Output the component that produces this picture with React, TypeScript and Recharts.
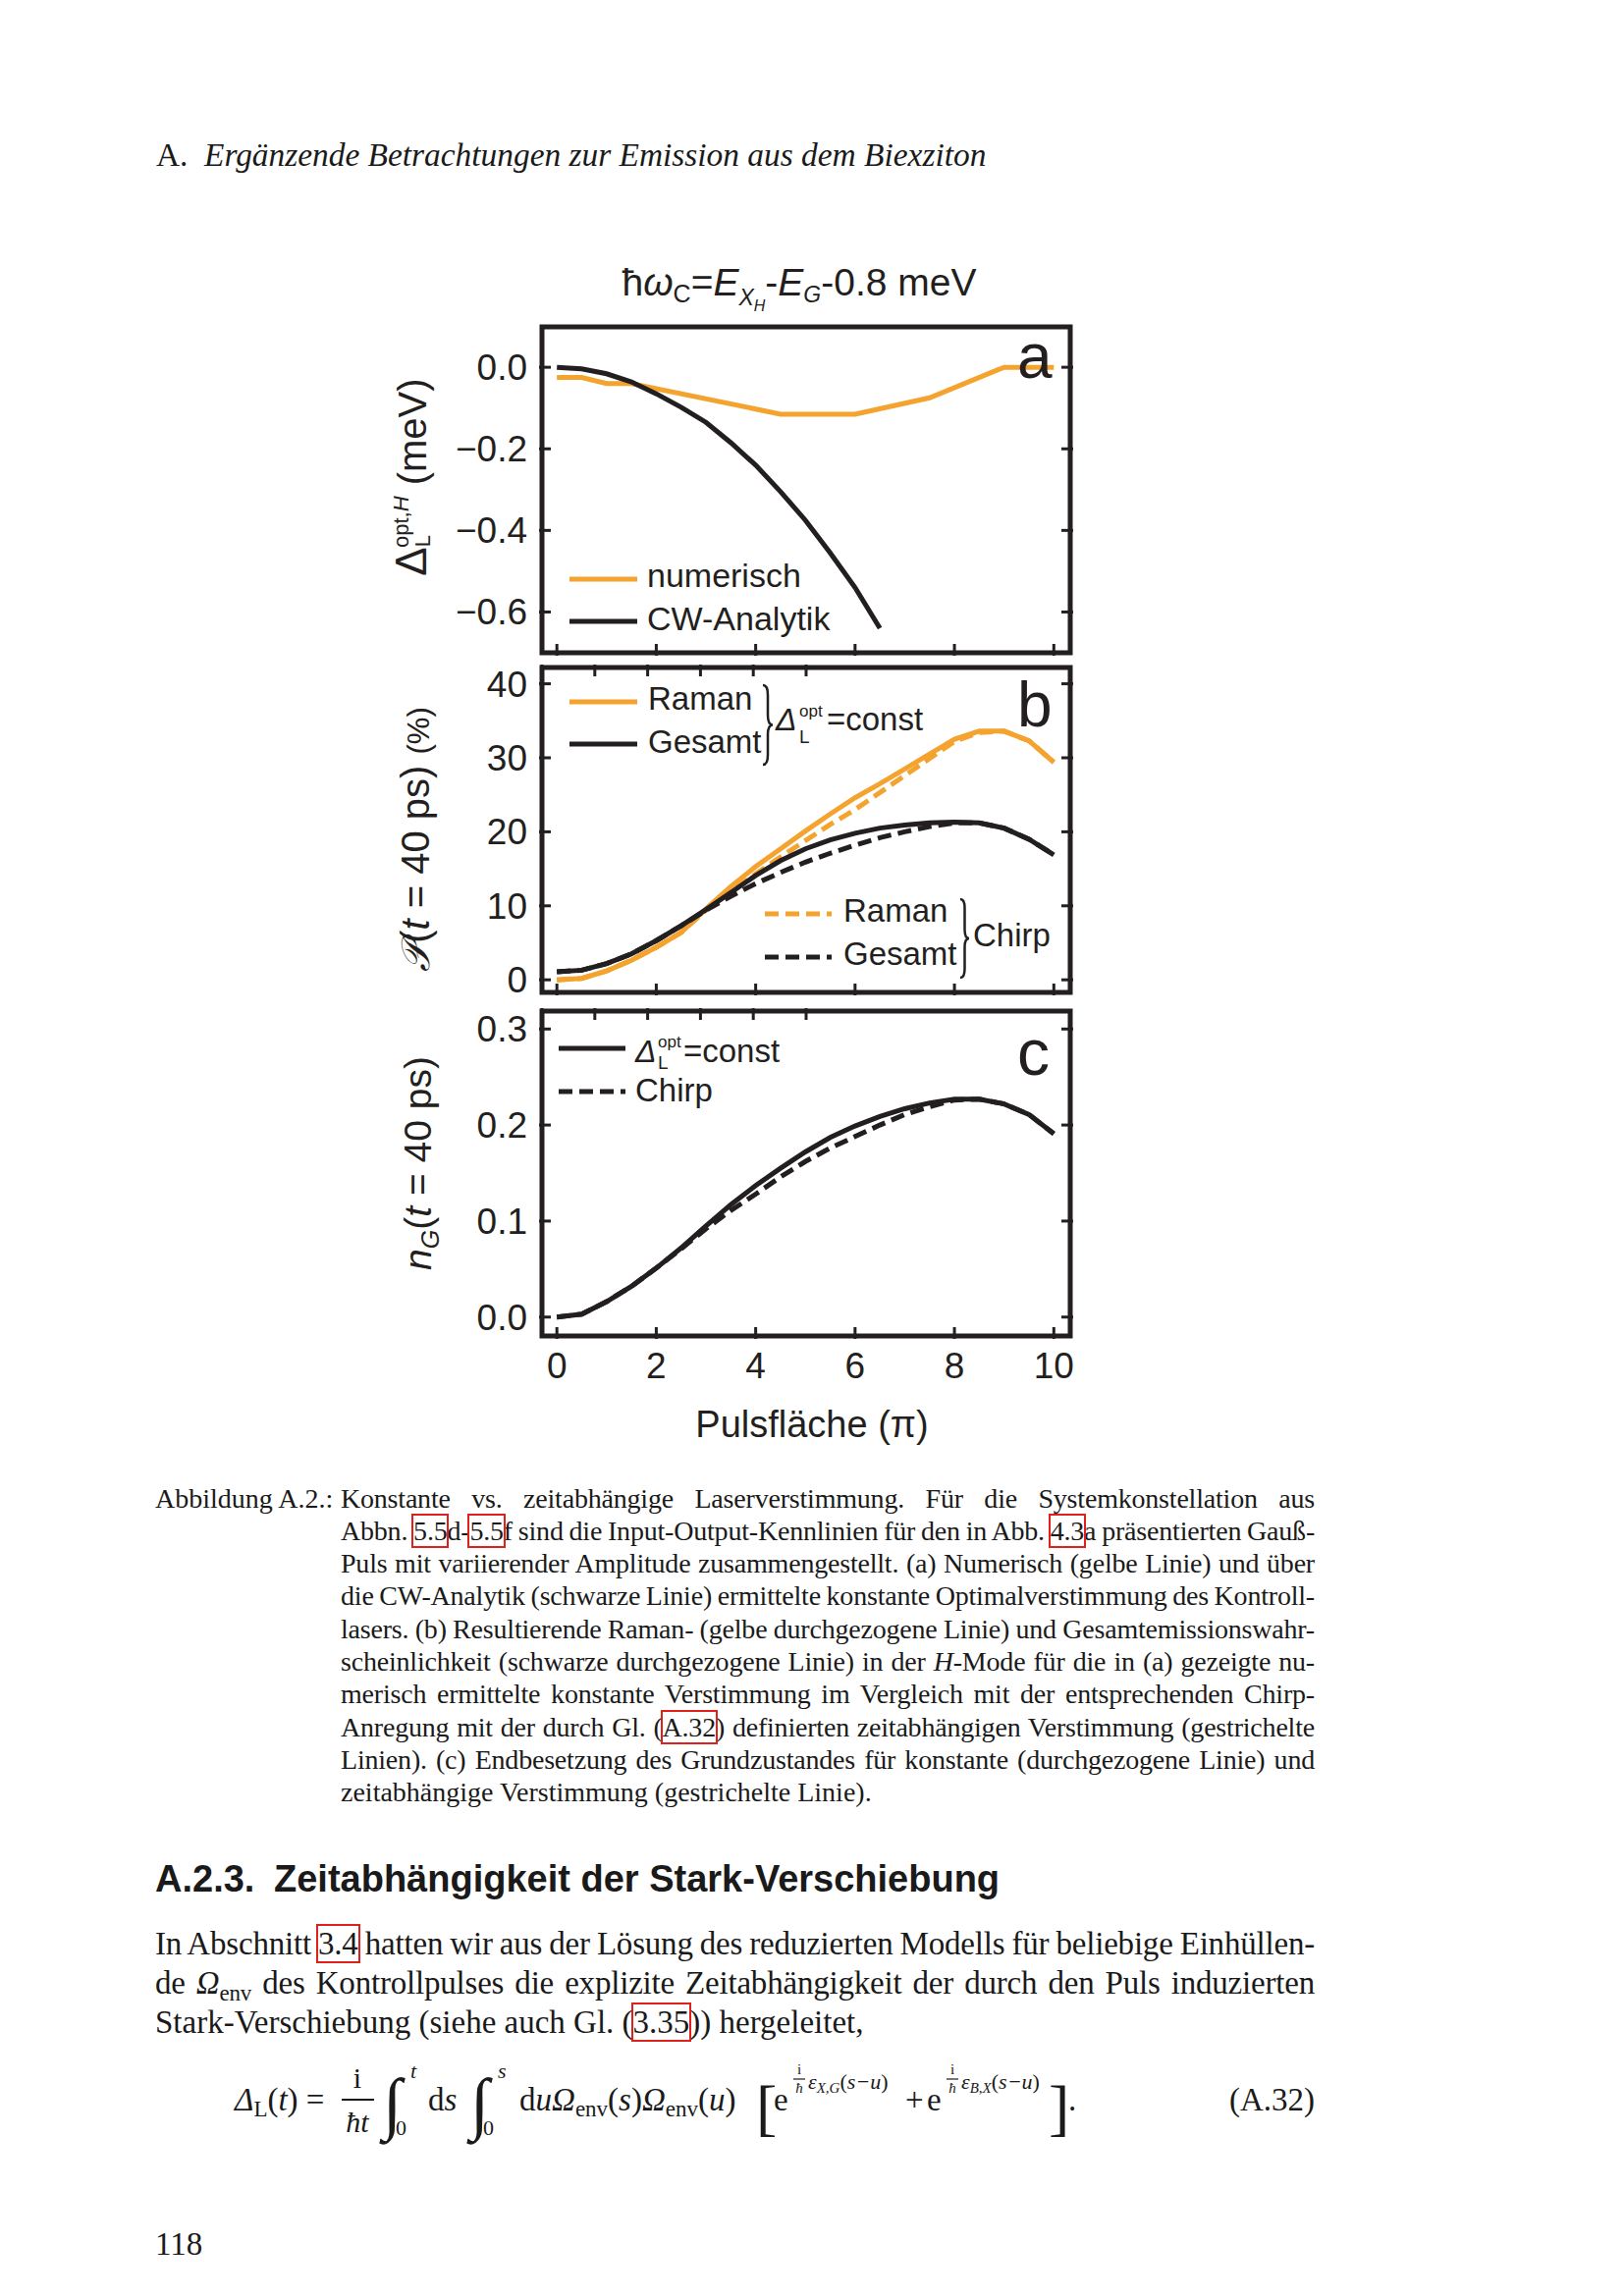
import React from "react";
import { LineChart, Line, XAxis, YAxis, ReferenceArea } from "recharts";

// ---------------- data ----------------
const pulseTicks = [0, 2, 4, 6, 8, 10];

// panel a : optimal detuning (meV)
const numerischX = [0, 0.5, 1, 1.5, 4.5, 6, 7.5, 9, 10];
const numerischY = [-0.025, -0.025, -0.04, -0.04, -0.115, -0.115, -0.075, 0, 0];
const cwX = [0, 0.5, 1, 1.5, 2, 2.5, 3, 3.5, 4, 4.5, 5, 5.5, 6, 6.5];
const cwY = [0, -0.004, -0.016, -0.036, -0.065, -0.098, -0.135, -0.185, -0.24, -0.305, -0.375, -0.455, -0.54, -0.64];
const aTicks = [0, -0.2, -0.4, -0.6];

// panel b : emission probability (%)
const pulseB = [0, 0.5, 1, 1.5, 2, 2.5, 3, 3.5, 4, 4.5, 5, 5.5, 6, 6.5, 7, 7.5, 8, 8.5, 9, 9.5, 10];
const ramanConst = [0, 0.2, 1.2, 2.65, 4.4, 6.4, 9.6, 12.6, 15.3, 17.7, 20.1, 22.4, 24.6, 26.5, 28.5, 30.5, 32.5, 33.6, 33.6, 32.3, 29.4];
const gesamtConst = [1.1, 1.3, 2.2, 3.5, 5.3, 7.3, 9.5, 11.8, 14.1, 16.1, 17.7, 18.9, 19.8, 20.5, 20.9, 21.2, 21.3, 21.2, 20.5, 19.0, 16.9];
const ramanChirp = [0, 0.2, 1.2, 2.65, 4.4, 6.4, 9.4, 11.9, 14.3, 16.6, 18.8, 21.0, 23.0, 25.3, 27.6, 29.9, 32.2, 33.4, 33.6, 32.3, 29.4];
const gesamtChirp = [1.1, 1.3, 2.2, 3.5, 5.3, 7.3, 9.4, 11.3, 13.0, 14.5, 15.9, 17.1, 18.2, 19.2, 20.0, 20.7, 21.2, 21.2, 20.5, 19.0, 16.9];
const bTicks = [0, 10, 20, 30, 40];

// panel c : ground state occupation
const nGConst = [0, 0.003, 0.016, 0.032, 0.051, 0.072, 0.095, 0.117, 0.137, 0.155, 0.172, 0.187, 0.199, 0.209, 0.217, 0.223, 0.227, 0.227, 0.222, 0.211, 0.191];
const nGChirp = [0, 0.003, 0.016, 0.032, 0.051, 0.071, 0.092, 0.111, 0.128, 0.146, 0.162, 0.176, 0.188, 0.2, 0.211, 0.219, 0.226, 0.227, 0.222, 0.211, 0.191];
const cTicks = [0, 0.1, 0.2, 0.3];

// ---------------- styling / layout ----------------
const SANS = "'Liberation Sans', Arial, Helvetica, sans-serif";
const SERIF = "'Liberation Serif', 'Times New Roman', Times, serif";
const INK = "#231F20";
const TEXT = "#1a1a1a";
const ORANGE = "#F4A32E";
const LINK_RED = "#E0201B";
const DASH = "14 7";
const LW = 5;

const XD: [number, number] = [-0.3, 10.33];
const PLOT_L = 552;
const PLOT_R = 1090;
const PLOT_W = PLOT_R - PLOT_L;
const AXIS_W = 150;
const RIGHT_W = 20;
const TOP_H = 20;

const numerischData = numerischX.map((x, i) => ({ x, y: numerischY[i] }));
const cwData = cwX.map((x, i) => ({ x, y: cwY[i] }));
const panelBData = pulseB.map((x, i) => ({
  x,
  ramanConst: ramanConst[i],
  gesamtConst: gesamtConst[i],
  ramanChirp: ramanChirp[i],
  gesamtChirp: gesamtChirp[i],
}));
const panelCData = pulseB.map((x, i) => ({ x, konst: nGConst[i], chirp: nGChirp[i] }));

const fmtA = (v: number) => (v === 0 ? "0.0" : "\u2212" + Math.abs(v).toFixed(1));
const fmtB = (v: number) => String(v);
const fmtC = (v: number) => v.toFixed(1);

const makeLeftTick = (fmt: (v: number) => string) => (p: any) => (
  <g>
    <line x1={p.x - 3} x2={p.x + 9} y1={p.y} y2={p.y} stroke={INK} strokeWidth={3} />
    <text x={p.x - 15} y={p.y + 13} textAnchor="end" fontFamily={SANS} fontSize={37} fill={INK}>
      {fmt(p.payload.value)}
    </text>
  </g>
);
const RightTick = (p: any) => (
  <line x1={p.x + 3} x2={p.x - 9} y1={p.y} y2={p.y} stroke={INK} strokeWidth={3} />
);
const TopTick = (p: any) => (
  <line x1={p.x} x2={p.x} y1={p.y - 3} y2={p.y + 9} stroke={INK} strokeWidth={3} />
);
const makeBottomTick = (labels: boolean) => (p: any) => (
  <g>
    <line x1={p.x} x2={p.x} y1={p.y + 3} y2={p.y - 9} stroke={INK} strokeWidth={3} />
    {labels && (
      <text x={p.x} y={p.y + 43} textAnchor="middle" fontFamily={SANS} fontSize={37} fill={INK}>
        {p.payload.value}
      </text>
    )}
  </g>
);

function Panel(props: {
  top: number;
  bottom: number;
  yDomain: [number, number];
  yTicks: number[];
  fmt: (v: number) => string;
  labels?: boolean;
  data?: any[];
  children: React.ReactNode;
}) {
  const { top, bottom, yDomain, yTicks, fmt, labels, data, children } = props;
  const botH = labels ? 120 : 20;
  const width = AXIS_W + PLOT_W + RIGHT_W;
  const height = TOP_H + (bottom - top) + botH;
  return (
    <div style={{ position: "absolute", left: PLOT_L - AXIS_W, top: top - TOP_H }}>
      <LineChart width={width} height={height} data={data} margin={{ top: 0, right: 0, bottom: 0, left: 0 }}>
        <XAxis
          dataKey="x"
          type="number"
          domain={XD}
          ticks={pulseTicks}
          interval={0}
          allowDataOverflow
          height={botH}
          axisLine={false}
          tickLine={false}
          tickSize={0}
          tickMargin={0}
          tick={makeBottomTick(!!labels)}
        />
        <XAxis
          xAxisId="t"
          orientation="top"
          type="number"
          domain={XD}
          ticks={pulseTicks}
          interval={0}
          allowDataOverflow
          height={TOP_H}
          axisLine={false}
          tickLine={false}
          tickSize={0}
          tickMargin={0}
          tick={TopTick}
        />
        <YAxis
          type="number"
          domain={yDomain}
          ticks={yTicks}
          interval={0}
          allowDataOverflow
          width={AXIS_W}
          axisLine={false}
          tickLine={false}
          tickSize={0}
          tickMargin={0}
          tick={makeLeftTick(fmt)}
        />
        <YAxis
          yAxisId="r"
          orientation="right"
          type="number"
          domain={yDomain}
          ticks={yTicks}
          interval={0}
          allowDataOverflow
          width={RIGHT_W}
          axisLine={false}
          tickLine={false}
          tickSize={0}
          tickMargin={0}
          tick={RightTick}
        />
        {children}
        <ReferenceArea
          x1={XD[0]}
          x2={XD[1]}
          y1={yDomain[0]}
          y2={yDomain[1]}
          fill="none"
          fillOpacity={0}
          stroke={INK}
          strokeWidth={5}
          ifOverflow="visible"
        />
      </LineChart>
    </div>
  );
}

// ---------------- page text helpers ----------------
function TLine(props: {
  left: number;
  baseline: number;
  width?: number;
  fs: number;
  justify?: boolean;
  family?: string;
  style?: React.CSSProperties;
  children: React.ReactNode;
}) {
  const { left, baseline, width, fs, justify, family, style, children } = props;
  const fam = family || SERIF;
  const off = fam === SANS ? 0.8465 : 0.8375;
  return (
    <div
      style={{
        position: "absolute",
        left,
        top: baseline - off * fs,
        width,
        fontSize: fs,
        lineHeight: `${fs}px`,
        height: fs,
        whiteSpace: "nowrap",
        wordSpacing: justify ? "-1.5px" : undefined,
        letterSpacing: justify ? "-0.2px" : undefined,
        textAlign: justify ? "justify" : "left",
        textAlignLast: justify ? "justify" : "left",
        fontFamily: fam,
        color: TEXT,
        ...style,
      }}
    >
      {children}
    </div>
  );
}

const Ref = ({ children }: { children: React.ReactNode }) => (
  <span style={{ outline: `2px solid ${LINK_RED}`, outlineOffset: "0px" }}>{children}</span>
);

function bracePath(x: number, y0: number, y1: number, w: number) {
  const ym = (y0 + y1) / 2;
  const q = w / 2;
  return `M ${x} ${y0} Q ${x + q} ${y0} ${x + q} ${y0 + 2 * q} L ${x + q} ${ym - 2 * q} Q ${x + q} ${ym} ${x + w} ${ym} Q ${x + q} ${ym} ${x + q} ${ym + 2 * q} L ${x + q} ${y1 - 2 * q} Q ${x + q} ${y1} ${x} ${y1}`;
}

const TEXT_R = 1339;
const CAP_L = 347;
const CAP_W = TEXT_R - CAP_L;
const BODY_W = TEXT_R - 158;
const CAP_B0 = 1536;
const CAP_DY = 33.3;
const capB = (i: number) => CAP_B0 + i * CAP_DY;

export default function App() {
  return (
    <div style={{ position: "absolute", left: 0, top: 0, width: 1654, height: 2339, background: "#fff", overflow: "hidden" }}>
      {/* running header */}
      <TLine left={159} baseline={169} fs={33.4}>A.</TLine>
      <TLine left={208} baseline={169} fs={33.4} style={{ fontStyle: "italic" }}>
        Ergänzende Betrachtungen zur Emission aus dem Biexziton
      </TLine>

      {/* charts */}
      <Panel top={333} bottom={665} yDomain={[-0.7, 0.099]} yTicks={aTicks} fmt={fmtA}>
        <Line data={numerischData} dataKey="y" type="linear" stroke={ORANGE} strokeWidth={LW} dot={false} activeDot={false} isAnimationActive={false} />
        <Line data={cwData} dataKey="y" type="linear" stroke={INK} strokeWidth={LW} dot={false} activeDot={false} isAnimationActive={false} />
      </Panel>
      <Panel top={680} bottom={1011} yDomain={[-1.7, 42.2]} yTicks={bTicks} fmt={fmtB} data={panelBData}>
        <Line dataKey="ramanConst" type="linear" stroke={ORANGE} strokeWidth={LW} dot={false} activeDot={false} isAnimationActive={false} />
        <Line dataKey="ramanChirp" type="linear" stroke={ORANGE} strokeWidth={LW} strokeDasharray={DASH} dot={false} activeDot={false} isAnimationActive={false} />
        <Line dataKey="gesamtConst" type="linear" stroke={INK} strokeWidth={LW} dot={false} activeDot={false} isAnimationActive={false} />
        <Line dataKey="gesamtChirp" type="linear" stroke={INK} strokeWidth={LW} strokeDasharray={DASH} dot={false} activeDot={false} isAnimationActive={false} />
      </Panel>
      <Panel top={1030} bottom={1361} yDomain={[-0.0197, 0.3187]} yTicks={cTicks} fmt={fmtC} labels data={panelCData}>
        <Line dataKey="konst" type="linear" stroke={INK} strokeWidth={LW} dot={false} activeDot={false} isAnimationActive={false} />
        <Line dataKey="chirp" type="linear" stroke={INK} strokeWidth={LW} strokeDasharray={DASH} dot={false} activeDot={false} isAnimationActive={false} />
      </Panel>

      {/* chart annotations */}
      <svg width={1654} height={2339} style={{ position: "absolute", left: 0, top: 0, pointerEvents: "none" }}>
        {/* title */}
        <text x={814} y={301} textAnchor="middle" fontFamily={SANS} fontSize={39} fill={INK}>
          <tspan>ħ</tspan>
          <tspan fontStyle="italic">ω</tspan>
          <tspan fontSize={25} dy={7}>C</tspan>
          <tspan dy={-7}>=</tspan>
          <tspan fontStyle="italic">E</tspan>
          <tspan fontSize={23} fontStyle="italic" dy={10}>X</tspan>
          <tspan fontSize={16} fontStyle="italic" dy={6}>H</tspan>
          <tspan dy={-16}>-</tspan>
          <tspan fontStyle="italic">E</tspan>
          <tspan fontSize={23} fontStyle="italic" dy={7}>G</tspan>
          <tspan dy={-7}>-0.8 meV</tspan>
        </text>

        {/* panel letters */}
        <text x={1036} y={385} fontFamily={SANS} fontSize={64} fill={INK}>a</text>
        <text x={1036} y={740} fontFamily={SANS} fontSize={64} fill={INK}>b</text>
        <text x={1036} y={1095} fontFamily={SANS} fontSize={66} fill={INK}>c</text>

        {/* y-axis titles */}
        <text x={434} y={486} transform="rotate(-90 434 486)" textAnchor="middle" fontFamily={SANS} fontSize={40} fill={INK}>
          <tspan fontSize={44}>Δ</tspan>
          <tspan fontSize={22} dy={4}>L</tspan>
          <tspan fontSize={22} dx={-13} dy={-22}>opt,</tspan>
          <tspan fontSize={22} fontStyle="italic">H</tspan>
          <tspan dy={18}> (meV)</tspan>
        </text>
        <text x={437} y={855} transform="rotate(-90 437 855)" textAnchor="middle" fontFamily={SANS} fontSize={40} fill={INK}>
          <tspan fontStyle="italic">{"\u{1D4AB}"}</tspan>
          <tspan>(</tspan>
          <tspan fontStyle="italic">t</tspan>
          <tspan> = 40 ps) </tspan>
          <tspan fontSize={31}>(%)</tspan>
        </text>
        <text x={439} y={1185} transform="rotate(-90 439 1185)" textAnchor="middle" fontFamily={SANS} fontSize={39} fill={INK}>
          <tspan fontStyle="italic">n</tspan>
          <tspan fontSize={25} fontStyle="italic" dy={8}>G</tspan>
          <tspan dy={-8}>(</tspan>
          <tspan fontStyle="italic">t</tspan>
          <tspan> = 40 ps)</tspan>
        </text>

        {/* x-axis title */}
        <text x={827} y={1464} textAnchor="middle" fontFamily={SANS} fontSize={38} fill={INK}>Pulsfläche (π)</text>

        {/* legend a */}
        <line x1={580} x2={649} y1={590} y2={590} stroke={ORANGE} strokeWidth={LW} />
        <text x={659} y={598} fontFamily={SANS} fontSize={34} fill={INK}>numerisch</text>
        <line x1={580} x2={649} y1={633} y2={633} stroke={INK} strokeWidth={LW} />
        <text x={659} y={642} fontFamily={SANS} fontSize={34} fill={INK}>CW-Analytik</text>

        {/* legend b (const) */}
        <line x1={580} x2={649} y1={715} y2={715} stroke={ORANGE} strokeWidth={LW} />
        <text x={660} y={723} fontFamily={SANS} fontSize={33} fill={INK}>Raman</text>
        <line x1={580} x2={649} y1={758} y2={758} stroke={INK} strokeWidth={LW} />
        <text x={660} y={767} fontFamily={SANS} fontSize={33} fill={INK}>Gesamt</text>
        <path d={bracePath(777, 698, 779, 10)} fill="none" stroke={INK} strokeWidth={2.5} />
        <text x={790} y={744} fontFamily={SANS} fontSize={32} fontStyle="italic" fill={INK}>Δ</text>
        <text x={814} y={730} fontFamily={SANS} fontSize={17} fill={INK}>opt</text>
        <text x={814} y={757} fontFamily={SANS} fontSize={19} fill={INK}>L</text>
        <text x={842} y={744} fontFamily={SANS} fontSize={33} fill={INK}>=const</text>

        {/* legend b (chirp) */}
        <line x1={779} x2={847} y1={931} y2={931} stroke={ORANGE} strokeWidth={LW} strokeDasharray={DASH} />
        <text x={859} y={939} fontFamily={SANS} fontSize={33} fill={INK}>Raman</text>
        <line x1={779} x2={847} y1={975} y2={975} stroke={INK} strokeWidth={LW} strokeDasharray={DASH} />
        <text x={859} y={983} fontFamily={SANS} fontSize={33} fill={INK}>Gesamt</text>
        <path d={bracePath(978, 916, 996, 9)} fill="none" stroke={INK} strokeWidth={2.5} />
        <text x={991} y={964} fontFamily={SANS} fontSize={33} fill={INK}>Chirp</text>

        {/* legend c */}
        <line x1={569} x2={637} y1={1068} y2={1068} stroke={INK} strokeWidth={LW} />
        <text x={647} y={1082} fontFamily={SANS} fontSize={32} fontStyle="italic" fill={INK}>Δ</text>
        <text x={670} y={1067} fontFamily={SANS} fontSize={17} fill={INK}>opt</text>
        <text x={670} y={1089} fontFamily={SANS} fontSize={19} fill={INK}>L</text>
        <text x={696} y={1082} fontFamily={SANS} fontSize={33} fill={INK}>=const</text>
        <line x1={569} x2={637} y1={1112} y2={1112} stroke={INK} strokeWidth={LW} strokeDasharray={DASH} />
        <text x={647} y={1122} fontFamily={SANS} fontSize={33} fill={INK}>Chirp</text>

        {/* equation A.32 */}
        <g fontFamily={SERIF} fill={TEXT}>
          <text x={239} y={2150} fontSize={33}>
            <tspan fontStyle="italic">Δ</tspan>
            <tspan fontSize={23} dy={6}>L</tspan>
            <tspan dy={-6}>(</tspan>
            <tspan fontStyle="italic">t</tspan>
            <tspan>) =</tspan>
          </text>
          <text x={364} y={2127} fontSize={30} textAnchor="middle">i</text>
          <line x1={348} x2={381} y1={2139} y2={2139} stroke={TEXT} strokeWidth={2} />
          <text x={364} y={2172} fontSize={30} textAnchor="middle" fontStyle="italic">ħt</text>
          <text x={390} y={2166} fontSize={70}>∫</text>
          <text x={418} y={2117} fontSize={22} fontStyle="italic">t</text>
          <text x={403} y={2175} fontSize={22}>0</text>
          <text x={436} y={2150} fontSize={33}>
            d<tspan fontStyle="italic">s</tspan>
          </text>
          <text x={479} y={2166} fontSize={70}>∫</text>
          <text x={507} y={2117} fontSize={22} fontStyle="italic">s</text>
          <text x={492} y={2175} fontSize={22}>0</text>
          <text x={529} y={2150} fontSize={33}>
            d<tspan fontStyle="italic">uΩ</tspan>
            <tspan fontSize={23} dy={6}>env</tspan>
            <tspan dy={-6}>(</tspan>
            <tspan fontStyle="italic">s</tspan>
            <tspan>)</tspan>
            <tspan fontStyle="italic">Ω</tspan>
            <tspan fontSize={23} dy={6}>env</tspan>
            <tspan dy={-6}>(</tspan>
            <tspan fontStyle="italic">u</tspan>
            <tspan>)</tspan>
          </text>
          <text x={770} y={2168} fontSize={64}>[</text>
          <text x={788} y={2150} fontSize={33}>e</text>
          <text x={814} y={2113} fontSize={15} textAnchor="middle">i</text>
          <line x1={808} x2={820} y1={2118} y2={2118} stroke={TEXT} strokeWidth={1.2} />
          <text x={814} y={2132} fontSize={15} textAnchor="middle" fontStyle="italic">ħ</text>
          <text x={823} y={2128} fontSize={22} fontStyle="italic">
            ε<tspan fontSize={15} dy={4}>X,G</tspan>
            <tspan dy={-4} fontStyle="normal">(</tspan>s−u<tspan fontStyle="normal">)</tspan>
          </text>
          <text x={922} y={2150} fontSize={33}>+</text>
          <text x={944} y={2150} fontSize={33}>e</text>
          <text x={970} y={2113} fontSize={15} textAnchor="middle">i</text>
          <line x1={964} x2={976} y1={2118} y2={2118} stroke={TEXT} strokeWidth={1.2} />
          <text x={970} y={2132} fontSize={15} textAnchor="middle" fontStyle="italic">ħ</text>
          <text x={979} y={2128} fontSize={22} fontStyle="italic">
            ε<tspan fontSize={15} dy={4}>B,X</tspan>
            <tspan dy={-4} fontStyle="normal">(</tspan>s−u<tspan fontStyle="normal">)</tspan>
          </text>
          <text x={1068} y={2168} fontSize={64}>]</text>
          <text x={1088} y={2150} fontSize={33}>.</text>
          <text x={TEXT_R} y={2150} fontSize={33} textAnchor="end">(A.32)</text>
        </g>
      </svg>

      {/* caption */}
      <TLine left={158} baseline={capB(0)} fs={28}>Abbildung A.2.:</TLine>
      <TLine left={CAP_L} baseline={capB(0)} width={CAP_W} fs={28} justify>
        Konstante vs. zeitabhängige Laserverstimmung. Für die Systemkonstellation aus
      </TLine>
      <TLine left={CAP_L} baseline={capB(1)} width={CAP_W} fs={28} justify>
        Abbn. <Ref>5.5</Ref>d-<Ref>5.5</Ref>f sind die Input-Output-Kennlinien für den in Abb. <Ref>4.3</Ref>a präsentierten Gauß-
      </TLine>
      <TLine left={CAP_L} baseline={capB(2)} width={CAP_W} fs={28} justify>
        Puls mit variierender Amplitude zusammengestellt. (a) Numerisch (gelbe Linie) und über
      </TLine>
      <TLine left={CAP_L} baseline={capB(3)} width={CAP_W} fs={28} justify>
        die CW-Analytik (schwarze Linie) ermittelte konstante Optimalverstimmung des Kontroll-
      </TLine>
      <TLine left={CAP_L} baseline={capB(4)} width={CAP_W} fs={28} justify>
        lasers. (b) Resultierende Raman- (gelbe durchgezogene Linie) und Gesamtemissionswahr-
      </TLine>
      <TLine left={CAP_L} baseline={capB(5)} width={CAP_W} fs={28} justify>
        scheinlichkeit (schwarze durchgezogene Linie) in der <i>H</i>-Mode für die in (a) gezeigte nu-
      </TLine>
      <TLine left={CAP_L} baseline={capB(6)} width={CAP_W} fs={28} justify>
        merisch ermittelte konstante Verstimmung im Vergleich mit der entsprechenden Chirp-
      </TLine>
      <TLine left={CAP_L} baseline={capB(7)} width={CAP_W} fs={28} justify>
        Anregung mit der durch Gl. (<Ref>A.32</Ref>) definierten zeitabhängigen Verstimmung (gestrichelte
      </TLine>
      <TLine left={CAP_L} baseline={capB(8)} width={CAP_W} fs={28} justify>
        Linien). (c) Endbesetzung des Grundzustandes für konstante (durchgezogene Linie) und
      </TLine>
      <TLine left={CAP_L} baseline={capB(9)} width={CAP_W} fs={28}>
        zeitabhängige Verstimmung (gestrichelte Linie).
      </TLine>

      {/* section heading */}
      <TLine left={158} baseline={1927} fs={38} family={SANS} style={{ fontWeight: "bold" }}>A.2.3.</TLine>
      <TLine left={279} baseline={1927} fs={38} family={SANS} style={{ fontWeight: "bold" }}>
        Zeitabhängigkeit der Stark-Verschiebung
      </TLine>

      {/* body text */}
      <TLine left={158} baseline={1992} width={BODY_W} fs={33} justify>
        In Abschnitt <Ref>3.4</Ref> hatten wir aus der Lösung des reduzierten Modells für beliebige Einhüllen-
      </TLine>
      <TLine left={158} baseline={2032} width={BODY_W} fs={33} justify>
        de <i>Ω</i>
        <span style={{ fontSize: 23, position: "relative", top: 7 }}>env</span> des Kontrollpulses die explizite Zeitabhängigkeit der durch den Puls induzierten
      </TLine>
      <TLine left={158} baseline={2072} fs={33}>
        Stark-Verschiebung (siehe auch Gl. (<Ref>3.35</Ref>)) hergeleitet,
      </TLine>

      {/* page number */}
      <TLine left={158} baseline={2298} fs={33}>118</TLine>
    </div>
  );
}
